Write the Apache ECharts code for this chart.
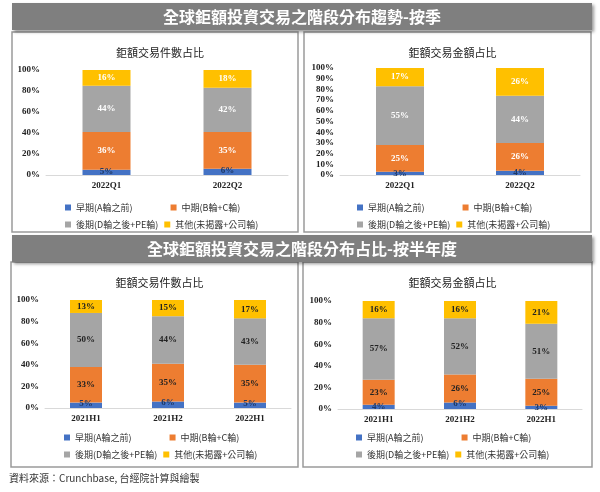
<!DOCTYPE html>
<html><head><meta charset="utf-8">
<script src="https://cdn.jsdelivr.net/npm/echarts@6/dist/echarts.min.js"></script>
<style>html,body{margin:0;padding:0;background:#fff}#c{width:600px;height:492px}</style>
</head><body><div id="c"></div>
<script>
const seriesNames = ['早期(A輪之前)', '中期(B輪+C輪)', '後期(D輪之後+PE輪)', '其他(未揭露+公司輪)'];
const colors = ['#4472C4', '#ED7D31', '#A5A5A5', '#FFC000'];
const qCats = ['2022Q1', '2022Q2'];
const hCats = ['2021H1', '2021H2', '2022H1'];
const q1Count = [[5, 6], [36, 35], [44, 42], [16, 18]];
const q1Amount = [[3, 4], [25, 26], [55, 44], [17, 26]];
const h1Count = [[5, 6, 5], [33, 35, 35], [50, 44, 43], [13, 15, 17]];
const h1Amount = [[4, 6, 3], [23, 26, 25], [57, 52, 51], [16, 16, 21]];
const titles = ['鉅額交易件數占比', '鉅額交易金額占比'];
const bannerTop = '全球鉅額投資交易之階段分布趨勢-按季';
const bannerBottom = '全球鉅額投資交易之階段分布占比-按半年度';
const sourceText = '資料來源：Crunchbase, 台經院計算與繪製';

const charts = [
  {cats: qCats, data: q1Count, title: titles[0], grid: {left: 46, top: 70, width: 242, height: 105}, interval: 20, labelColor: '#fff', barW: 48, panel: [12, 32, 286, 200]},
  {cats: qCats, data: q1Amount, title: titles[1], grid: {left: 340, top: 68, width: 240, height: 107}, interval: 10, labelColor: '#fff', barW: 48, panel: [304, 32, 287, 200]},
  {cats: hCats, data: h1Count, title: titles[0], grid: {left: 45, top: 300, width: 246, height: 108}, interval: 20, labelColor: '#222', barW: 32, panel: [11, 262, 287, 205]},
  {cats: hCats, data: h1Amount, title: titles[1], grid: {left: 338, top: 301, width: 244, height: 108}, interval: 20, labelColor: '#222', barW: 32, panel: [303, 262, 289, 205]}
];

const option = {animation: false, title: [], grid: [], xAxis: [], yAxis: [], series: [], legend: [], graphic: []};
charts.forEach((c, i) => {
  const [px, py, pw, ph] = c.panel;
  option.graphic.push({type: 'rect', z: -10, shape: {x: px, y: py, width: pw, height: ph}, style: {fill: '#fff', stroke: '#9a9a9a', lineWidth: 1.5}});
  option.title.push({text: c.title, left: px + pw / 2, top: py + 10, textAlign: 'center', textStyle: {fontSize: 11, fontWeight: 'normal', color: '#222', fontFamily: 'Noto Sans CJK TC'}});
  option.grid.push(Object.assign({}, c.grid));
  option.xAxis.push({type: 'category', gridIndex: i, data: c.cats, axisTick: {show: false}, axisLine: {lineStyle: {color: '#d9d9d9'}},
    axisLabel: {color: '#222', fontSize: 9, fontWeight: 'bold', fontFamily: 'Liberation Serif', margin: 6}});
  option.yAxis.push({type: 'value', gridIndex: i, min: 0, max: 100, interval: c.interval, splitLine: {show: false},
    axisLabel: {formatter: '{value}%', color: '#222', fontSize: 9, fontWeight: 'bold', fontFamily: 'Liberation Serif', margin: 6}});
  c.data.forEach((vals, s) => {
    option.series.push({type: 'bar', name: seriesNames[s], xAxisIndex: i, yAxisIndex: i, stack: 's' + i, data: vals, barWidth: c.barW,
      itemStyle: {color: colors[s]},
      label: {show: true, position: s === 0 ? 'top' : 'inside', distance: -6, formatter: '{c}%', color: s === 0 ? '#1f3864' : c.labelColor,
        fontSize: 9, fontWeight: 'bold', fontFamily: 'Liberation Serif'}});
  });
  const ls = {fontSize: 9, color: '#333', fontFamily: 'Noto Sans CJK TC'};
  option.legend.push({data: seriesNames.slice(0, 2), left: px + 48, top: py + 166, itemWidth: 6, itemHeight: 6, itemGap: 38, icon: 'rect', textStyle: ls, selectedMode: false});
  option.legend.push({data: seriesNames.slice(2, 4), left: px + 48, top: py + 183, itemWidth: 6, itemHeight: 6, itemGap: 6, icon: 'rect', textStyle: ls, selectedMode: false});
});
[[3, bannerTop], [235, bannerBottom]].forEach(([y, t]) => {
  option.graphic.push({type: 'rect', z: -5, shape: {x: 12, y: y, width: 580, height: 27}, style: {fill: '#7f7f7f', shadowBlur: 3, shadowColor: 'rgba(0,0,0,0.4)', shadowOffsetX: 2, shadowOffsetY: 2}});
  option.graphic.push({type: 'text', x: 302, y: y + 13.5, style: {text: t, fill: '#fff', font: 'bold 16px "Noto Sans CJK TC"', textAlign: 'center', textVerticalAlign: 'middle'}});
});
option.graphic.push({type: 'text', x: 9, y: 478, style: {text: sourceText, fill: '#333', font: '10px "Noto Sans CJK TC"', textVerticalAlign: 'middle'}});
echarts.init(document.getElementById('c')).setOption(option);
</script></body></html>
